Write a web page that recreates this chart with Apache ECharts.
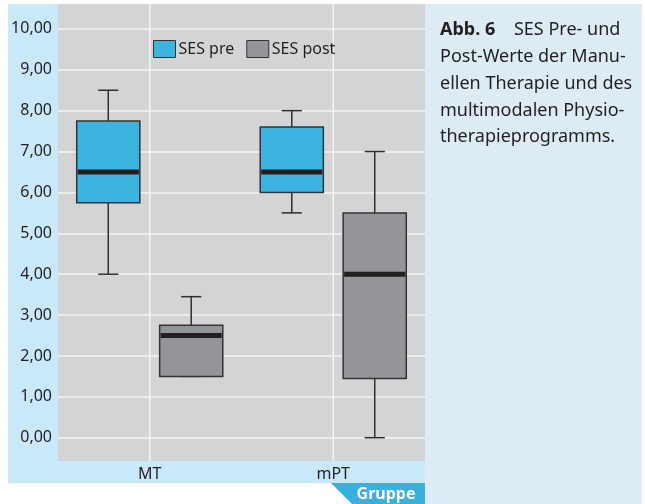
<!DOCTYPE html>
<html>
<head>
<meta charset="utf-8">
<script src="https://cdn.jsdelivr.net/npm/echarts@6/dist/echarts.min.js"></script>
<style>
  html, body { margin: 0; padding: 0; background: #fff; }
  #chart { width: 645px; height: 504px; }
</style>
</head>
<body>
<div id="chart"></div>
<script>
  // data: [min, Q1, median, Q3, max]
  const groups = ['MT', 'mPT'];
  const sesPre = [[4.0, 5.75, 6.5, 7.75, 8.5], [5.5, 6.0, 6.5, 7.6, 8.0]];
  const sesPost = [[1.5, 1.5, 2.5, 2.75, 3.45], [0.0, 1.45, 4.0, 5.5, 7.0]];
  const seriesNames = ['SES pre', 'SES post'];

  const font = '"Noto Sans", sans-serif';
  const textColor = '#231f20';
  const preColor = '#3cb4df';
  const postColor = '#939598';

  const chart = echarts.init(document.getElementById('chart'));

  function toRows(list) {
    return list.map(function (v, i) { return [i].concat(v); });
  }

  // box + whiskers with short caps, like the SPSS output
  function boxItem(shift, fill) {
    return function (params, api) {
      const cat = api.value(0);
      const band = api.size([1, 0])[0];
      const cx = api.coord([cat, 0])[0] + shift * band;
      const half = band * 0.172;
      const cap = band * 0.055;
      const y = function (d) { return api.coord([cat, api.value(d)])[1]; };
      const yMin = y(1), yQ1 = y(2), yMed = y(3), yQ3 = y(4), yMax = y(5);
      const line = { stroke: '#2e2e2e', lineWidth: 1.5 };
      return {
        type: 'group',
        children: [
          { type: 'line', shape: { x1: cx, y1: yMax, x2: cx, y2: yQ3 }, style: line },
          { type: 'line', shape: { x1: cx - cap, y1: yMax, x2: cx + cap, y2: yMax }, style: line },
          { type: 'line', shape: { x1: cx, y1: yMin, x2: cx, y2: yQ1 }, style: line },
          { type: 'line', shape: { x1: cx - cap, y1: yMin, x2: cx + cap, y2: yMin }, style: line },
          {
            type: 'rect',
            shape: { x: cx - half, y: yQ3, width: half * 2, height: yQ1 - yQ3 },
            style: { fill: fill, stroke: '#333', lineWidth: 1.5 }
          },
          { type: 'line', shape: { x1: cx - half + 1, y1: yMed, x2: cx + half - 1, y2: yMed },
            style: { stroke: textColor, lineWidth: 5 } }
        ]
      };
    };
  }

  const option = {
    animation: false,
    textStyle: { fontFamily: font },
    grid: {
      left: 58, right: 220, top: 4, bottom: 43,
      show: true, backgroundColor: '#d3d4d6', borderWidth: 0
    },
    legend: {
      left: 153, top: 40, padding: 0,
      itemWidth: 22, itemHeight: 17, itemGap: 12, icon: 'rect',
      textStyle: { fontSize: 16, color: textColor, fontFamily: font, padding: [0, 0, 0, -2] },
      data: [
        { name: seriesNames[0], itemStyle: { color: preColor, borderColor: '#333', borderWidth: 1 } },
        { name: seriesNames[1], itemStyle: { color: postColor, borderColor: '#333', borderWidth: 1 } }
      ]
    },
    xAxis: {
      type: 'category',
      data: groups,
      axisLine: { show: false },
      axisTick: { show: false },
      splitLine: { show: false },
      axisLabel: { fontSize: 16, color: textColor, margin: 5, fontFamily: font }
    },
    yAxis: {
      type: 'value',
      min: -0.57,
      max: 10.61,
      splitNumber: 11,
      axisLine: { show: false },
      axisTick: { show: false },
      axisLabel: {
        fontSize: 16, color: textColor, margin: 6, fontFamily: font,
        showMinLabel: false, showMaxLabel: false,
        formatter: function (v) { return v.toFixed(2).replace('.', ','); }
      },
      splitLine: {
        showMinLine: false, showMaxLine: false,
        lineStyle: { color: '#f4f4f4', width: 1.5 }
      }
    },
    graphic: [
      { type: 'rect', z: -5, shape: { x: 8, y: 4, width: 417, height: 479 }, style: { fill: '#c9e9fa' } },
      { type: 'rect', z: -5, shape: { x: 425, y: 4, width: 217, height: 500 }, style: { fill: '#dcebf4' } },
      { type: 'polygon', z: 5, shape: { points: [[331, 483], [425, 483], [425, 504], [352, 504]] },
        style: { fill: '#3aafdb' } },
      { type: 'text', z: 6, x: 386, y: 494,
        style: { text: 'Gruppe', fill: '#fff', font: 'bold 16px ' + font, align: 'center', verticalAlign: 'middle' } },
      { type: 'text', z: 6, left: 440, top: 17,
        style: {
          text: '{b|Abb. 6}    SES Pre- und\nPost-Werte der Manu-\nellen Therapie und des\nmultimodalen Physio-\ntherapieprogramms.',
          font: '18px ' + font,
          fill: textColor,
          lineHeight: 26.7,
          rich: { b: { fontWeight: 'bold', fontSize: 18, fontFamily: font, fill: textColor, lineHeight: 26.7 } }
        } }
    ],
    series: [
      {
        name: 'grid',
        type: 'custom',
        silent: true,
        z: 1,
        data: groups.map(function (g, i) { return [i]; }),
        renderItem: function (params, api) {
          const x = api.coord([api.value(0), 0])[0];
          const cs = params.coordSys;
          return { type: 'line', shape: { x1: x, y1: cs.y, x2: x, y2: cs.y + cs.height },
            style: { stroke: '#f4f4f4', lineWidth: 1.5 } };
        }
      },
      {
        name: seriesNames[0],
        type: 'custom',
        z: 3,
        itemStyle: { color: preColor },
        encode: { x: 0, y: [1, 2, 3, 4, 5] },
        data: toRows(sesPre),
        renderItem: boxItem(-0.226, preColor)
      },
      {
        name: seriesNames[1],
        type: 'custom',
        z: 3,
        itemStyle: { color: postColor },
        encode: { x: 0, y: [1, 2, 3, 4, 5] },
        data: toRows(sesPost),
        renderItem: boxItem(0.226, postColor)
      }
    ]
  };

  chart.setOption(option);
</script>
</body>
</html>
